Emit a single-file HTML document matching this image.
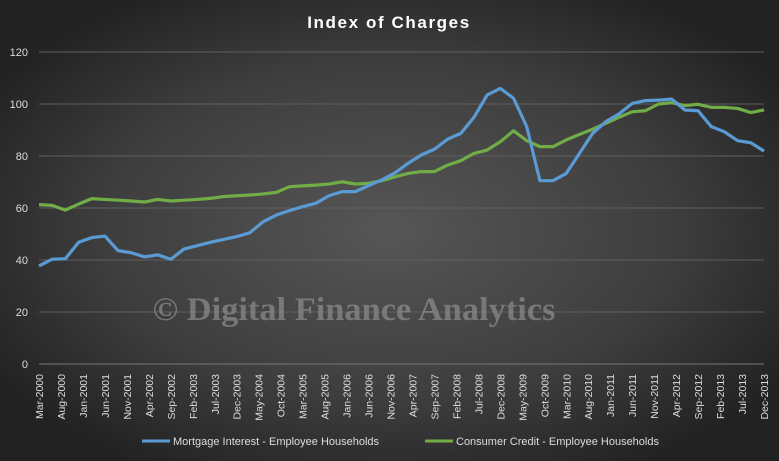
<!DOCTYPE html>
<html><head><meta charset="utf-8"><style>
body{margin:0;width:779px;height:461px;overflow:hidden;}
svg{display:block;font-family:"Liberation Sans",sans-serif;}
</style></head><body>
<svg id="chart" width="779" height="461">
<defs>
<radialGradient id="bg" cx="0.5" cy="0.5" r="0.6">
<stop offset="0" stop-color="#565656"/><stop offset="0.6" stop-color="#3e3e3e"/><stop offset="1" stop-color="#222"/>
</radialGradient>
</defs>
<rect width="779" height="461" fill="url(#bg)"/>
<text x="389" y="28" text-anchor="middle" fill="#fff" font-size="17" font-weight="bold" letter-spacing="1.6">Index of Charges</text>
<g id="grid"></g><g id="ylabels"></g><g id="xlabels"></g>
<text x="354" y="320" text-anchor="middle" fill="#8a8a8a" fill-opacity="0.75" font-family="'Liberation Serif',serif" font-weight="bold" font-size="33" textLength="403" lengthAdjust="spacingAndGlyphs">© Digital Finance Analytics</text>
<g id="series"></g>
<g>
<line x1="142" y1="441" x2="170" y2="441" stroke="#5b9bd5" stroke-width="3"/>
<text x="173" y="445" fill="#ddd" font-size="11">Mortgage Interest - Employee Households</text>
<line x1="425" y1="441" x2="453" y2="441" stroke="#70ad47" stroke-width="3"/>
<text x="456" y="445" fill="#ddd" font-size="11">Consumer Credit - Employee Households</text>
</g>
</svg>
<script>
const mortgage=[37.7,40.3,40.5,46.8,48.6,49.2,43.6,42.8,41.2,42,40.3,44.2,45.5,46.8,47.9,49,50.5,54.7,57.3,59,60.5,61.8,64.7,66.3,66.3,68.6,70.8,73.5,77.2,80.4,82.6,86.5,88.7,94.9,103.5,106,102.2,91.3,70.5,70.5,73.3,81,88.7,93.2,96.2,100.2,101.3,101.5,101.9,97.7,97.4,91.3,89.3,85.9,85.1,81.9];
const consumer=[61.3,61,59.2,61.5,63.6,63.3,63,62.7,62.3,63.3,62.7,63,63.3,63.7,64.4,64.7,65,65.4,66,68.2,68.5,68.8,69.2,70.1,69.2,69.5,70.5,72,73.3,74,74,76.5,78.2,81,82.3,85.5,89.7,85.9,83.6,83.6,86.2,88.3,90.3,92.6,94.9,97,97.4,100,100.5,99.4,99.9,98.7,98.7,98.3,96.7,97.7];
const yTicks=[0,20,40,60,80,100,120];
const months=["Jan","Feb","Mar","Apr","May","Jun","Jul","Aug","Sep","Oct","Nov","Dec"];
const X0=39,X1=764,Y0=364,Y1=52;
const xq=i=>X0+i*(X1-X0)/55;
const y=v=>Y0-v*(Y0-Y1)/120;
const NS="http://www.w3.org/2000/svg";
function mk(t,a,p){const e=document.createElementNS(NS,t);for(const k in a)e.setAttribute(k,a[k]);p.appendChild(e);return e;}
const grid=document.getElementById('grid'),yl=document.getElementById('ylabels'),xl=document.getElementById('xlabels'),ser=document.getElementById('series');
yTicks.forEach(v=>{
 const l=mk('line',{x1:X0,x2:X1,y1:y(v),y2:y(v),stroke:v===0?'#777':'#5f5f5f','stroke-width':1},grid);
 
 
 const t=mk('text',{x:28,y:y(v)+4,'text-anchor':'end',fill:'#ddd','font-size':11},yl);t.textContent=v;
 
 
});
for(let m=0;m<=165;m+=5){
 const mi=(2+m)%12,yr=2000+Math.floor((2+m)/12);
 const px=X0+m/3*(X1-X0)/55;
 const t=mk('text',{x:0,y:0,transform:`translate(${px+4},374) rotate(-90)`,'text-anchor':'end',fill:'#ddd','font-size':10.5},xl);
 t.textContent=months[mi]+'-'+yr;
 
 
}
function line(data,color,name){
 const p=mk('polyline',{points:data.map((v,i)=>xq(i)+','+y(v)).join(' '),fill:'none',stroke:color,'stroke-width':3.2,'stroke-linejoin':'round'},ser);
 
 
}
line(consumer,'#70ad47','consumer-credit-line');
line(mortgage,'#5b9bd5','mortgage-interest-line');
</script>
</body></html>
